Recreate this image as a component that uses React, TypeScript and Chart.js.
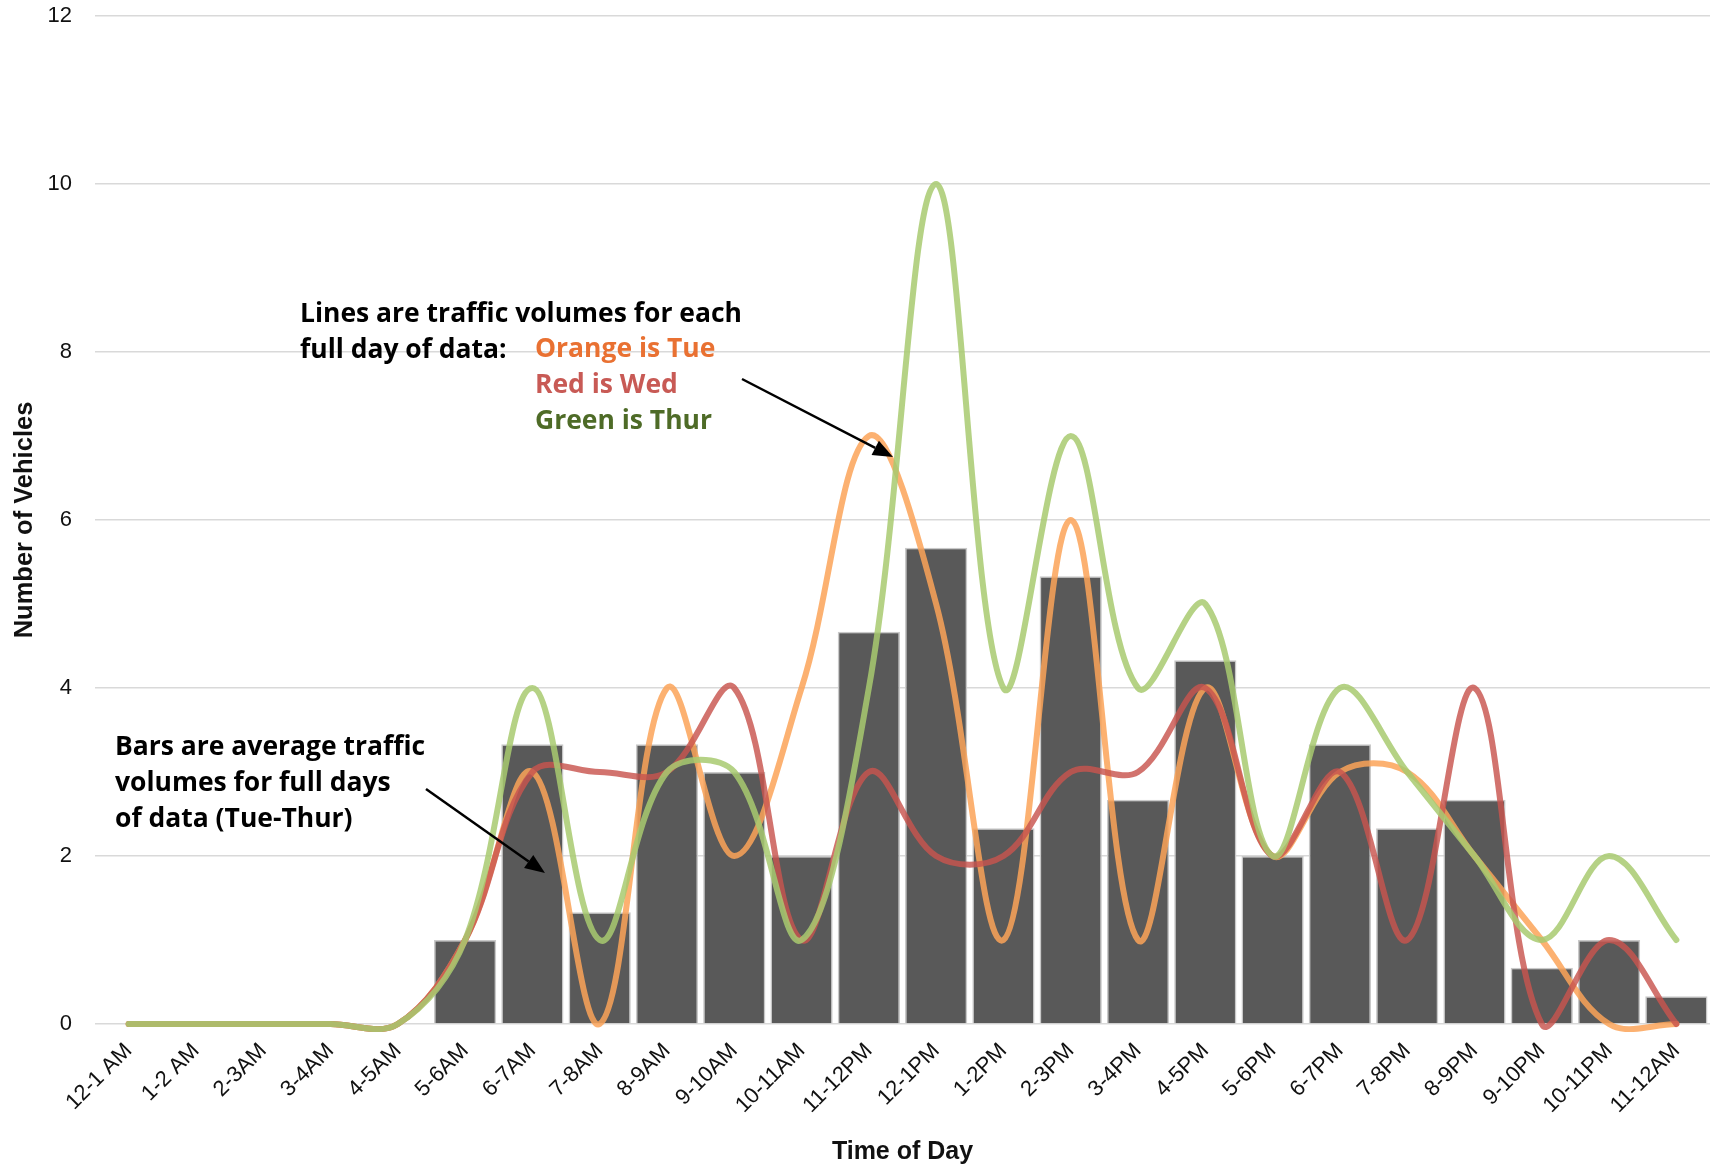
import React, { useEffect, useRef } from "react";
import { Chart, registerables } from "chart.js";

Chart.register(...registerables);

const categories = [
  "12-1 AM", "1-2 AM", "2-3AM", "3-4AM", "4-5AM", "5-6AM", "6-7AM", "7-8AM",
  "8-9AM", "9-10AM", "10-11AM", "11-12PM", "12-1PM", "1-2PM", "2-3PM", "3-4PM",
  "4-5PM", "5-6PM", "6-7PM", "7-8PM", "8-9PM", "9-10PM", "10-11PM", "11-12AM",
];
const averageValues = [0, 0, 0, 0, 0, 1, 3.33, 1.33, 3.33, 3, 2, 4.67, 5.67, 2.33, 5.33, 2.67, 4.33, 2, 3.33, 2.33, 2.67, 0.67, 1, 0.33];
const tueValues = [0, 0, 0, 0, 0, 1, 3, 0, 4, 2, 4, 7, 5, 1, 6, 1, 4, 2, 3, 3, 2, 1, 0, 0];
const wedValues = [0, 0, 0, 0, 0, 1, 3, 3, 3, 4, 1, 3, 2, 2, 3, 3, 4, 2, 3, 1, 4, 0, 1, 0];
const thuValues = [0, 0, 0, 0, 0, 1, 4, 1, 3, 3, 1, 4, 10, 4, 7, 4, 5, 2, 4, 3, 2, 1, 2, 1];
const yTicks = [0, 2, 4, 6, 8, 10, 12];

const linesNote = ["Lines are traffic volumes for each", "full day of data:"];
const legendNotes = [
  { text: "Orange is Tue", color: "#E97132" },
  { text: "Red is Wed", color: "#C85A55" },
  { text: "Green is Thur", color: "#4E6B27" },
];
const barsNote = ["Bars are average traffic", "volumes for full days", "of data (Tue-Thur)"];

const NOTE_FAMILY = "'Open Sans', 'Noto Sans', sans-serif";
const NOTE_TARGET_WIDTH = 442;

function drawArrow(ctx: CanvasRenderingContext2D, x1: number, y1: number, x2: number, y2: number) {
  const ang = Math.atan2(y2 - y1, x2 - x1);
  const headLen = 20;
  const headW = 8;
  const bx = x2 - headLen * Math.cos(ang);
  const by = y2 - headLen * Math.sin(ang);
  ctx.beginPath();
  ctx.moveTo(x1, y1);
  ctx.lineTo(bx, by);
  ctx.strokeStyle = "#000";
  ctx.lineWidth = 2.5;
  ctx.stroke();
  ctx.beginPath();
  ctx.moveTo(x2, y2);
  ctx.lineTo(bx + headW * Math.sin(ang), by - headW * Math.cos(ang));
  ctx.lineTo(bx - headW * Math.sin(ang), by + headW * Math.cos(ang));
  ctx.closePath();
  ctx.fillStyle = "#000";
  ctx.fill();
}

const notesPlugin = {
  id: "notes",
  afterDraw(chart: any) {
    const ctx: CanvasRenderingContext2D = chart.ctx;
    ctx.save();
    ctx.font = `700 24px ${NOTE_FAMILY}`;
    const w = ctx.measureText(linesNote[0]).width || NOTE_TARGET_WIDTH;
    const size = Math.max(18, Math.min(30, (24 * NOTE_TARGET_WIDTH) / w));
    ctx.font = `700 ${size.toFixed(2)}px ${NOTE_FAMILY}`;
    ctx.textAlign = "left";
    ctx.textBaseline = "alphabetic";
    ctx.fillStyle = "#000";
    linesNote.forEach((t, i) => ctx.fillText(t, 300, 322 + i * 36));
    legendNotes.forEach((n, i) => {
      ctx.fillStyle = n.color;
      ctx.fillText(n.text, 535, 357 + i * 36);
    });
    ctx.fillStyle = "#000";
    barsNote.forEach((t, i) => ctx.fillText(t, 115, 755 + i * 36));
    drawArrow(ctx, 742, 379, 893, 457);
    drawArrow(ctx, 426, 789, 545, 873);
    ctx.restore();
  },
};

export default function App() {
  const ref = useRef<HTMLCanvasElement | null>(null);
  useEffect(() => {
    if (!ref.current) return;
    document.body.style.margin = "0";
    const lineCommon = {
      type: "line" as const,
      borderWidth: 6,
      tension: 0.36,
      pointRadius: 0,
      pointHoverRadius: 0,
      fill: false,
      borderCapStyle: "round" as const,
      borderJoinStyle: "round" as const,
      capBezierPoints: false,
      clip: 8,
    };
    const chart = new Chart(ref.current, {
      type: "bar",
      data: {
        labels: categories,
        datasets: [
          { ...lineCommon, label: "Tue", data: tueValues, borderColor: "rgba(251,163,88,0.85)", order: 3 },
          { ...lineCommon, label: "Wed", data: wedValues, borderColor: "rgba(200,84,78,0.82)", order: 2 },
          { ...lineCommon, label: "Thur", data: thuValues, borderColor: "rgba(168,202,112,0.85)", order: 1 },
          {
            type: "bar",
            label: "Average",
            data: averageValues,
            backgroundColor: "#595959",
            borderColor: "#c9c9c9",
            borderWidth: 1.5,
            categoryPercentage: 1,
            barPercentage: 0.925,
            order: 10,
          } as any,
        ],
      },
      options: {
        animation: false,
        responsive: false,
        devicePixelRatio: 1,
        layout: { padding: { top: 0, right: 1, left: 0, bottom: 0 } },
        plugins: {
          legend: { display: false },
          tooltip: { enabled: false },
        },
        scales: {
          x: {
            grid: { display: false },
            border: { display: false },
            ticks: {
              minRotation: 45,
              maxRotation: 45,
              autoSkip: false,
              padding: 6,
              color: "#111",
              font: { family: "'Liberation Sans', Arial, sans-serif", size: 22 },
            },
            title: {
              display: true,
              text: "Time of Day",
              color: "#111",
              font: { family: "'Liberation Sans', Arial, sans-serif", size: 25, weight: "bold", lineHeight: 1 },
              padding: { top: 4, bottom: 0 },
            },
            afterFit: (scale: any) => {
              scale.height = 141;
            },
          },
          y: {
            min: 0,
            max: 12,
            afterBuildTicks: (scale: any) => {
              scale.ticks = yTicks.map((v) => ({ value: v }));
            },
            grid: { color: "#d9d9d9", lineWidth: 1.5, drawTicks: false },
            border: { display: false },
            ticks: {
              padding: 23,
              color: "#111",
              font: { family: "'Liberation Sans', Arial, sans-serif", size: 22 },
            },
            title: {
              display: true,
              text: "Number of Vehicles",
              color: "#111",
              font: { family: "'Liberation Sans', Arial, sans-serif", size: 25.5, weight: "bold" },
              padding: { top: 10, bottom: 0 },
            },
            afterFit: (scale: any) => {
              scale.width = 95;
              scale.paddingTop = 16;
              scale.paddingBottom = 12;
            },
          },
        },
      },
      plugins: [notesPlugin],
    } as any);
    return () => chart.destroy();
  }, []);
  return (
    <div style={{ position: "fixed", left: 0, top: 0, width: 1711, height: 1165, background: "#fff" }}>
      <canvas ref={ref} width={1711} height={1165} style={{ width: 1711, height: 1165, display: "block" }} />
    </div>
  );
}
